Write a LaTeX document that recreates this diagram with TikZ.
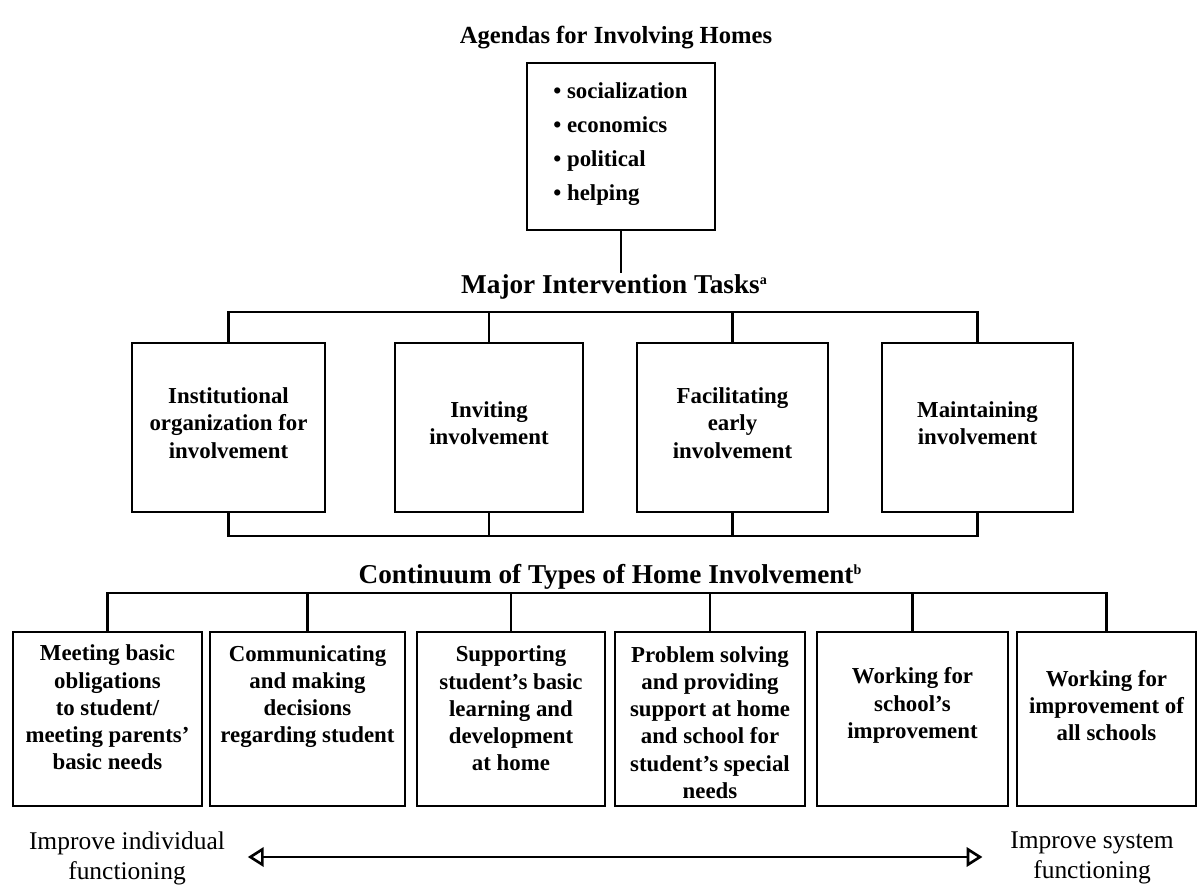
\documentclass[tikz,border=0pt]{standalone}
\usepackage{fontspec}
\setmainfont{Liberation Serif}
\usetikzlibrary{arrows.meta, positioning}

\newcommand{\notemark}[1]{\raisebox{0.75ex}{\fontsize{8}{8}\selectfont #1}}

\begin{document}
\begin{tikzpicture}[
  x=0.02cm, y=-0.02cm,
  boxline/.style={draw=black, line width=1.6pt, inner sep=0pt},
  link/.style={black, line width=1.2pt},
  boxtxt/.style={font=\bfseries\fontsize{13}{15.5}\selectfont, align=center, inner sep=0pt},
  head/.style={font=\bfseries\fontsize{15.5}{18}\selectfont, inner sep=1pt},
  endlbl/.style={font=\fontsize{14.5}{17}\selectfont, align=center, inner sep=0pt},
]
\useasboundingbox (0,0) rectangle (1200,895);

% ------------------------------------------------------------
% Agendas
% ------------------------------------------------------------
\node[head, font=\bfseries\fontsize{14}{17}\selectfont] (agendas) at (616,38)
  {Agendas for Involving Homes};
\node[boxline, minimum width=3.76cm, minimum height=3.34cm] (agenda) at (621,146.5) {};
\node[boxtxt, font=\bfseries\fontsize{13}{19.3}\selectfont, align=left, anchor=west]
  (agendaitems) at (553,144)
  {\textbullet\ socialization\\ \textbullet\ economics\\ \textbullet\ political\\ \textbullet\ helping};

% ------------------------------------------------------------
% Major intervention tasks
% ------------------------------------------------------------
\node[head] (tasks) at (614,287) {Major Intervention Tasks\notemark{a}};
\draw[link] (agenda.south) -- (agenda.south |- tasks.north);

\foreach \n/\cx/\w/\txt in {%
  1/228.5/193/{Institutional\\organization for\\involvement},%
  2/489/188/{Inviting\\involvement},%
  3/732.5/191/{Facilitating\\early\\involvement},%
  4/977.5/191/{Maintaining\\involvement}%
}{
  \node[boxline, minimum width=\w*0.02cm, minimum height=3.38cm] (task\n) at (\cx,427.5) {};
  \node[boxtxt] (tasktxt\n) at (\cx,423) {\txt};
}

\coordinate (taskbar) at (605,312);
\draw[link] (task1.north) |- (taskbar) -| (task4.north);
\foreach \n in {2,3}
  \draw[link] (task\n.north) -- (task\n.north |- taskbar);

\coordinate (taskfoot) at (605,536);
\draw[link] (task1.south) |- (taskfoot) -| (task4.south);
\foreach \n in {2,3}
  \draw[link] (task\n.south) -- (task\n.south |- taskfoot);

% ------------------------------------------------------------
% Continuum of types
% ------------------------------------------------------------
\node[head] (types) at (610,577) {Continuum of Types of Home Involvement\notemark{b}};

\foreach \n/\cx/\w/\ty/\txt in {%
  1/107.5/189/707.5/{Meeting basic\\obligations\\to student/\\meeting parents'\\basic needs},%
  2/307.5/195/696.5/{Communicating\\and making\\decisions\\regarding student},%
  3/511/188/708.5/{Supporting\\student's basic\\learning and\\development\\at home},%
  4/710/190/722.5/{Problem solving\\and providing\\support at home\\and school for\\student's special\\needs},%
  5/912.5/191/705.5/{Working for\\school's\\improvement},%
  6/1106.5/179/705.5/{Working for\\improvement of\\all schools}%
}{
  \node[boxline, minimum width=\w*0.02cm, minimum height=3.48cm] (type\n) at (\cx,719) {};
  \node[boxtxt] (typetxt\n) at (\cx,\ty) {\txt};
}

\coordinate (typebar) at (610,593);
\draw[link] (type1.north) |- (typebar) -| (type6.north);
\foreach \n in {2,...,5}
  \draw[link] (type\n.north) -- (type\n.north |- typebar);

% ------------------------------------------------------------
% Individual vs system
% ------------------------------------------------------------
\node[endlbl] (indiv) at (127,858) {Improve individual\\functioning};
\node[endlbl] (system) at (1092,858) {Improve system\\functioning};
\draw[link, line width=1.5pt,
  {Triangle[open, length=9pt, width=11pt]}-{Triangle[open, length=9pt, width=11pt]}]
  ([xshift=0.45cm, yshift=0.02cm]indiv.east) -- ([xshift=-0.55cm, yshift=0.02cm]system.west);

\end{tikzpicture}
\end{document}
